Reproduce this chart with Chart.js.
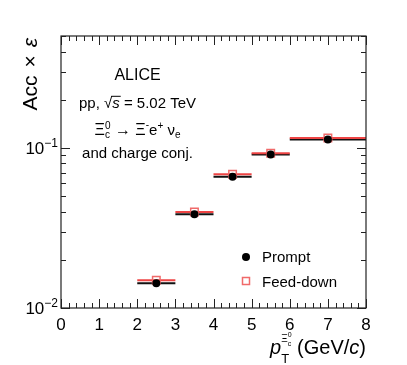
<!DOCTYPE html>
<html>
<head>
<meta charset="utf-8">
<script src="https://cdn.jsdelivr.net/npm/chart.js@4.4.1/dist/chart.umd.min.js"></script>
<style>
  html, body { margin: 0; padding: 0; background: #fff; }
  #wrap { width: 407px; height: 365px; }
</style>
</head>
<body>
<div id="wrap"><canvas id="accChart" width="407" height="365"></canvas></div>
<script>
// pT bins (GeV/c)
const binLow = [2, 3, 4, 5, 6];
const binHigh = [3, 4, 5, 6, 8];
const binCenter = [2.5, 3.5, 4.5, 5.5, 7];

// Acc x eff values
const promptAcc = [0.0143, 0.0385, 0.066, 0.091, 0.113];
const feedDownAcc = [0.0149, 0.0398, 0.0685, 0.0925, 0.1155];

// axis ticks
const xMajorTicks = [0, 1, 2, 3, 4, 5, 6, 7, 8];
const yMajorTicks = [0.01, 0.1];
const yTickExponents = ['\u22122', '\u22121'];

const FONT = '"Liberation Sans", Arial, Helvetica, sans-serif';
const AXIS_COLOR = '#222';
const RED_LINE = '#ee4444';
const RED_MARK = '#f06a6a';

function font(size, italic) {
    return (italic ? 'italic ' : '') + size + 'px ' + FONT;
}

// draw a sequence of text pieces: {t, size, dy, italic, over, stack:{sup,sub,size,supDy,subDy}, gap}
function richWidth(ctx, parts) {
    let w = 0;
    parts.forEach(p => {
        if (p.gap) { w += p.gap; return; }
        if (p.stack) {
            ctx.font = font(p.stack.size);
            w += Math.max(ctx.measureText(p.stack.sup || '').width, ctx.measureText(p.stack.sub || '').width);
            return;
        }
        ctx.font = font(p.size, p.italic);
        w += ctx.measureText(p.t).width;
    });
    return w;
}

function drawRich(ctx, parts, x, y, align) {
    const w = richWidth(ctx, parts);
    let cx = x;
    if (align === 'center') cx = x - w / 2;
    if (align === 'right') cx = x - w;
    ctx.textAlign = 'left';
    ctx.textBaseline = 'alphabetic';
    parts.forEach(p => {
        if (p.gap) { cx += p.gap; return; }
        if (p.stack) {
            const s = p.stack;
            ctx.font = font(s.size);
            if (s.sup) ctx.fillText(s.sup, cx, y + s.supDy);
            if (s.sub) ctx.fillText(s.sub, cx, y + s.subDy);
            cx += Math.max(ctx.measureText(s.sup || '').width, ctx.measureText(s.sub || '').width);
            return;
        }
        ctx.font = font(p.size, p.italic);
        const tw = ctx.measureText(p.t).width;
        ctx.fillText(p.t, cx, y + (p.dy || 0));
        if (p.over) {
            ctx.save();
            ctx.lineWidth = 1;
            ctx.strokeStyle = ctx.fillStyle;
            ctx.beginPath();
            ctx.moveTo(cx - 1, y - p.size * 0.78);
            ctx.lineTo(cx + tw + 1, y - p.size * 0.78);
            ctx.stroke();
            ctx.restore();
        }
        cx += tw;
    });
}

// horizontal bin-width bars, drawn under the markers
const binBars = {
    id: 'binBars',
    beforeDatasetsDraw(chart) {
        const { ctx, scales: { x, y } } = chart;
        ctx.save();
        ctx.lineWidth = 2;
        const sets = [
            { vals: promptAcc, color: '#111' },
            { vals: feedDownAcc, color: RED_LINE }
        ];
        sets.forEach(s => {
            ctx.strokeStyle = s.color;
            s.vals.forEach((v, i) => {
                const py = y.getPixelForValue(v);
                ctx.beginPath();
                ctx.moveTo(x.getPixelForValue(binLow[i]), py);
                ctx.lineTo(x.getPixelForValue(binHigh[i]), py);
                ctx.stroke();
            });
        });
        ctx.restore();
    }
};

// ROOT-like frame, inward ticks, labels, titles, texts and legend
const rootFrame = {
    id: 'rootFrame',
    afterDraw(chart) {
        const { ctx, chartArea: a, scales: { x, y } } = chart;
        ctx.save();
        ctx.strokeStyle = AXIS_COLOR;
        ctx.fillStyle = '#000';
        ctx.lineWidth = 1.2;
        ctx.strokeRect(a.left, a.top, a.right - a.left, a.bottom - a.top);

        ctx.lineWidth = 1;
        ctx.beginPath();
        // x ticks: major each 1, minor each 0.2
        for (let k = 0; k <= 40; k++) {
            const v = k * 0.2;
            const px = Math.round(x.getPixelForValue(v)) + 0.5;
            const len = k % 5 === 0 ? 9 : 5;
            ctx.moveTo(px, a.bottom); ctx.lineTo(px, a.bottom - len);
            ctx.moveTo(px, a.top); ctx.lineTo(px, a.top + len);
        }
        // y ticks on log scale
        for (let dec = 0.01; dec < 1; dec *= 10) {
            for (let m = 1; m <= 9; m++) {
                const v = dec * m;
                if (v < y.min - 1e-9 || v > y.max + 1e-9) continue;
                const py = Math.round(y.getPixelForValue(v)) + 0.5;
                const len = m === 1 ? 9 : 5;
                ctx.moveTo(a.left, py); ctx.lineTo(a.left + len, py);
                ctx.moveTo(a.right, py); ctx.lineTo(a.right - len, py);
            }
        }
        ctx.stroke();

        // x tick labels
        ctx.font = font(17);
        ctx.textAlign = 'center';
        ctx.textBaseline = 'alphabetic';
        xMajorTicks.forEach(v => {
            ctx.fillText(String(v), x.getPixelForValue(v), a.bottom + 22);
        });

        // y tick labels 10^n
        yMajorTicks.forEach((v, i) => {
            const py = y.getPixelForValue(v);
            drawRich(ctx, [
                { t: '10', size: 17 },
                { t: yTickExponents[i], size: 12, dy: -7 }
            ], a.left - 3, py + 6, 'right');
        });

        // y title, rotated, aligned to the top of the axis
        ctx.save();
        ctx.translate(37, a.top + 2);
        ctx.rotate(-Math.PI / 2);
        drawRich(ctx, [
            { t: 'Acc', size: 21 },
            { gap: 8 },
            { t: '\u00d7', size: 21 },
            { gap: 8 },
            { t: '\u03b5', size: 21, italic: true }
        ], 0, 0, 'right');
        ctx.restore();

        // x title
        drawRich(ctx, [
            { t: 'p', size: 20, italic: true },
            { stack: { sup: '', sub: 'T', size: 13, supDy: 0, subDy: 9 } },
            { gap: -8 },
            { stack: { sup: '\u039e', sub: '', size: 10, supDy: -12, subDy: 0 } },
            { stack: { sup: '0', sub: 'c', size: 7, supDy: -17, subDy: -8 } },
            { t: ' (GeV/', size: 20 },
            { t: 'c', size: 20, italic: true },
            { t: ')', size: 20 }
        ], a.right, a.bottom + 46, 'right');

        // annotation block
        const cx = 137.5;
        drawRich(ctx, [{ t: 'ALICE', size: 16 }], cx, 80, 'center');
        drawRich(ctx, [
            { t: 'pp, ', size: 15 },
            { t: '\u221a', size: 15 },
            { t: 's', size: 15, italic: true, over: true },
            { t: ' = 5.02 TeV', size: 15 }
        ], cx, 108, 'center');
        drawRich(ctx, [
            { t: '\u039e', size: 16 },
            { stack: { sup: '0', sub: 'c', size: 10, supDy: -6, subDy: 3 } },
            { t: ' \u2192 \u039e', size: 16 },
            { t: '-', size: 10, dy: -7 },
            { t: 'e', size: 15 },
            { t: '+', size: 10, dy: -6 },
            { t: ' \u03bd', size: 15 },
            { t: 'e', size: 10, dy: 3 }
        ], cx, 135, 'center');
        drawRich(ctx, [{ t: 'and charge conj.', size: 15 }], cx, 158, 'center');

        // legend
        ctx.fillStyle = '#000';
        ctx.beginPath();
        ctx.arc(246, 257, 4, 0, Math.PI * 2);
        ctx.fill();
        ctx.strokeStyle = RED_MARK;
        ctx.lineWidth = 1.5;
        ctx.strokeRect(242.5, 277.5, 7, 7);
        ctx.font = font(15);
        ctx.textAlign = 'left';
        ctx.fillText('Prompt', 262, 262);
        ctx.fillText('Feed-down', 262, 286.5);

        ctx.restore();
    }
};

const ctx = document.getElementById('accChart');
new Chart(ctx, {
    type: 'scatter',
    data: {
        datasets: [{
            label: 'Prompt',
            data: binCenter.map((v, i) => ({ x: v, y: promptAcc[i] })),
            pointStyle: 'circle',
            pointRadius: 4,
            backgroundColor: '#000',
            borderColor: '#000',
            borderWidth: 0
        }, {
            label: 'Feed-down',
            data: binCenter.map((v, i) => ({ x: v, y: feedDownAcc[i] })),
            pointStyle: 'rect',
            pointRadius: 5.3,
            backgroundColor: 'rgba(0,0,0,0)',
            borderColor: RED_MARK,
            borderWidth: 1.5
        }]
    },
    options: {
        responsive: false,
        animation: false,
        layout: { padding: { left: 61, right: 41, top: 36, bottom: 57 } },
        scales: {
            x: { type: 'linear', min: 0, max: 8, display: false },
            y: { type: 'logarithmic', min: 0.01, max: 0.5, display: false }
        },
        plugins: {
            legend: { display: false },
            tooltip: { enabled: false }
        }
    },
    plugins: [binBars, rootFrame]
});
</script>
</body>
</html>
